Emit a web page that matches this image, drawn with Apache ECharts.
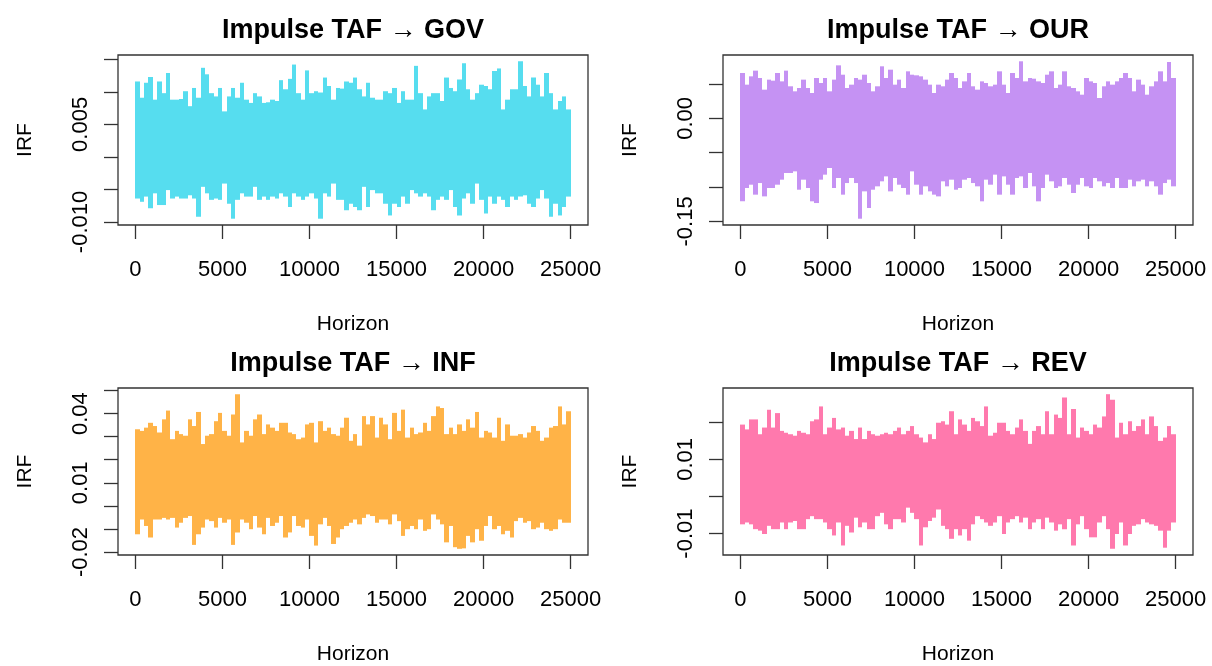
<!DOCTYPE html>
<html>
<head>
<meta charset="utf-8">
<script src="https://cdn.jsdelivr.net/npm/echarts@6/dist/echarts.min.js"></script>
<style>
  html, body { margin: 0; padding: 0; background: #fff; }
  #irf { width: 1212px; height: 666px; }
</style>
</head>
<body>
<div id="irf"></div>
<script>
// each entry = max / min of the IRF inside one 250-period bin of the horizon
const binWidth = 250
const xTicks = [0, 5000, 10000, 15000, 20000, 25000]

const govHi = [0.0116, 0.0091, 0.0114, 0.0123, 0.0088, 0.0116, 0.0098, 0.0129, 0.0088, 0.0088,
  0.0089, 0.0101, 0.0078, 0.0106, 0.0091, 0.0137, 0.0127, 0.0098, 0.0093, 0.0106,
  0.0070, 0.0093, 0.0106, 0.0091, 0.0114, 0.0088, 0.0083, 0.0098, 0.0093, 0.0083,
  0.0084, 0.0088, 0.0086, 0.0118, 0.0104, 0.0120, 0.0142, 0.0098, 0.0088, 0.0133,
  0.0098, 0.0101, 0.0099, 0.0122, 0.0109, 0.0088, 0.0106, 0.0105, 0.0116, 0.0114,
  0.0122, 0.0104, 0.0093, 0.0114, 0.0091, 0.0088, 0.0088, 0.0101, 0.0098, 0.0106,
  0.0083, 0.0101, 0.0088, 0.0088, 0.0140, 0.0098, 0.0073, 0.0093, 0.0098, 0.0098,
  0.0086, 0.0122, 0.0106, 0.0101, 0.0119, 0.0144, 0.0104, 0.0088, 0.0098, 0.0111,
  0.0109, 0.0104, 0.0132, 0.0136, 0.0073, 0.0088, 0.0104, 0.0104, 0.0147, 0.0109,
  0.0093, 0.0122, 0.0111, 0.0093, 0.0129, 0.0098, 0.0073, 0.0086, 0.0093, 0.0073]
const govLo = [-0.0064, -0.0069, -0.0061, -0.0079, -0.0056, -0.0074, -0.0074, -0.0051, -0.0064, -0.0061,
  -0.0064, -0.0064, -0.0059, -0.0064, -0.0092, -0.0046, -0.0056, -0.0066, -0.0064, -0.0066,
  -0.0041, -0.0072, -0.0095, -0.0066, -0.0056, -0.0061, -0.0061, -0.0046, -0.0066, -0.0061,
  -0.0066, -0.0061, -0.0064, -0.0056, -0.0061, -0.0077, -0.0056, -0.0061, -0.0066, -0.0061,
  -0.0056, -0.0064, -0.0095, -0.0056, -0.0061, -0.0041, -0.0066, -0.0066, -0.0082, -0.0072,
  -0.0077, -0.0082, -0.0046, -0.0077, -0.0051, -0.0056, -0.0056, -0.0072, -0.0090, -0.0072,
  -0.0077, -0.0061, -0.0072, -0.0051, -0.0056, -0.0061, -0.0056, -0.0061, -0.0082, -0.0066,
  -0.0061, -0.0066, -0.0051, -0.0077, -0.0090, -0.0064, -0.0056, -0.0072, -0.0041, -0.0066,
  -0.0087, -0.0061, -0.0072, -0.0061, -0.0066, -0.0077, -0.0061, -0.0066, -0.0061, -0.0059,
  -0.0072, -0.0077, -0.0064, -0.0051, -0.0064, -0.0092, -0.0072, -0.0090, -0.0077, -0.0061]
const govTicks = [-0.010, -0.005, 0, 0.005, 0.010, 0.015]
const govLabels = [-0.010, 0.005]

const ourHi = [0.0660, 0.0490, 0.0611, 0.0694, 0.0587, 0.0417, 0.0563, 0.0548, 0.0660, 0.0538,
  0.0694, 0.0466, 0.0393, 0.0441, 0.0563, 0.0441, 0.0369, 0.0587, 0.0514, 0.0587,
  0.0393, 0.0563, 0.0771, 0.0635, 0.0441, 0.0490, 0.0587, 0.0563, 0.0635, 0.0514,
  0.0393, 0.0466, 0.0757, 0.0587, 0.0708, 0.0490, 0.0563, 0.0441, 0.0684, 0.0635,
  0.0626, 0.0611, 0.0563, 0.0490, 0.0369, 0.0490, 0.0466, 0.0563, 0.0660, 0.0587,
  0.0441, 0.0538, 0.0660, 0.0466, 0.0417, 0.0538, 0.0514, 0.0466, 0.0490, 0.0684,
  0.0490, 0.0369, 0.0660, 0.0587, 0.0830, 0.0538, 0.0587, 0.0577, 0.0538, 0.0514,
  0.0635, 0.0684, 0.0441, 0.0490, 0.0684, 0.0466, 0.0441, 0.0393, 0.0344, 0.0587,
  0.0538, 0.0514, 0.0296, 0.0466, 0.0538, 0.0490, 0.0538, 0.0587, 0.0660, 0.0587,
  0.0393, 0.0563, 0.0490, 0.0344, 0.0466, 0.0538, 0.0684, 0.0538, 0.0820, 0.0587]
const ourLo = [-0.1208, -0.1014, -0.0966, -0.1111, -0.0942, -0.1136, -0.1014, -0.1014, -0.0966, -0.0893,
  -0.0796, -0.0796, -0.0772, -0.1039, -0.0893, -0.1014, -0.1208, -0.1233, -0.0893, -0.0820,
  -0.0723, -0.1014, -0.0869, -0.1111, -0.0942, -0.0869, -0.0942, -0.1461, -0.1063, -0.1305,
  -0.1039, -0.0990, -0.0917, -0.0845, -0.1063, -0.0869, -0.0966, -0.1014, -0.1111, -0.0772,
  -0.0966, -0.1111, -0.0990, -0.1063, -0.1111, -0.1136, -0.0917, -0.0990, -0.0893, -0.1039,
  -0.1014, -0.0893, -0.0869, -0.0942, -0.0990, -0.1208, -0.0893, -0.0966, -0.0820, -0.1111,
  -0.0845, -0.0966, -0.1111, -0.0869, -0.0845, -0.1014, -0.0796, -0.0990, -0.1208, -0.1014,
  -0.0820, -0.0917, -0.1014, -0.0990, -0.0869, -0.0966, -0.1087, -0.0966, -0.0869, -0.0990,
  -0.1014, -0.0869, -0.0917, -0.0990, -0.0942, -0.1014, -0.0869, -0.1014, -0.1014, -0.0893,
  -0.0990, -0.0917, -0.0893, -0.0990, -0.0917, -0.0990, -0.1111, -0.0942, -0.0893, -0.0990]
const ourTicks = [-0.15, -0.10, -0.05, 0, 0.05]
const ourLabels = [-0.15, 0]

const infHi = [0.0332, 0.0325, 0.0339, 0.0360, 0.0346, 0.0318, 0.0375, 0.0413, 0.0289, 0.0325,
  0.0311, 0.0304, 0.0375, 0.0346, 0.0407, 0.0268, 0.0304, 0.0311, 0.0367, 0.0403,
  0.0325, 0.0304, 0.0396, 0.0484, 0.0275, 0.0325, 0.0304, 0.0375, 0.0396, 0.0311,
  0.0353, 0.0339, 0.0325, 0.0360, 0.0360, 0.0318, 0.0311, 0.0289, 0.0296, 0.0353,
  0.0360, 0.0275, 0.0367, 0.0325, 0.0339, 0.0311, 0.0304, 0.0339, 0.0382, 0.0282,
  0.0311, 0.0261, 0.0389, 0.0353, 0.0389, 0.0296, 0.0382, 0.0353, 0.0289, 0.0403,
  0.0325, 0.0417, 0.0296, 0.0339, 0.0311, 0.0318, 0.0360, 0.0325, 0.0389, 0.0431,
  0.0424, 0.0311, 0.0339, 0.0311, 0.0353, 0.0325, 0.0375, 0.0339, 0.0407, 0.0296,
  0.0325, 0.0318, 0.0296, 0.0382, 0.0282, 0.0353, 0.0304, 0.0304, 0.0311, 0.0296,
  0.0318, 0.0346, 0.0325, 0.0282, 0.0296, 0.0339, 0.0346, 0.0431, 0.0353, 0.0410]
const infLo = [-0.0123, -0.0059, -0.0087, -0.0137, -0.0059, -0.0059, -0.0052, -0.0059, -0.0052, -0.0094,
  -0.0073, -0.0052, -0.0044, -0.0169, -0.0123, -0.0094, -0.0059, -0.0066, -0.0094, -0.0052,
  -0.0073, -0.0059, -0.0169, -0.0115, -0.0059, -0.0073, -0.0101, -0.0044, -0.0094, -0.0123,
  -0.0052, -0.0087, -0.0073, -0.0044, -0.0137, -0.0115, -0.0044, -0.0087, -0.0094, -0.0059,
  -0.0130, -0.0172, -0.0080, -0.0052, -0.0087, -0.0165, -0.0137, -0.0101, -0.0087, -0.0073,
  -0.0059, -0.0080, -0.0052, -0.0037, -0.0044, -0.0073, -0.0059, -0.0059, -0.0080, -0.0037,
  -0.0066, -0.0130, -0.0101, -0.0087, -0.0101, -0.0059, -0.0108, -0.0101, -0.0037, -0.0059,
  -0.0080, -0.0158, -0.0087, -0.0179, -0.0186, -0.0184, -0.0130, -0.0158, -0.0101, -0.0151,
  -0.0087, -0.0044, -0.0101, -0.0087, -0.0123, -0.0108, -0.0137, -0.0066, -0.0052, -0.0073,
  -0.0066, -0.0101, -0.0094, -0.0073, -0.0101, -0.0108, -0.0101, -0.0059, -0.0073, -0.0073]
const infTicks = [-0.02, -0.01, 0, 0.01, 0.02, 0.03, 0.04, 0.05]
const infLabels = [-0.02, 0.01, 0.04]

const revHi = [0.0194, 0.0181, 0.0208, 0.0208, 0.0168, 0.0186, 0.0234, 0.0186, 0.0225, 0.0177,
  0.0172, 0.0168, 0.0164, 0.0177, 0.0172, 0.0168, 0.0203, 0.0208, 0.0243, 0.0168,
  0.0186, 0.0212, 0.0181, 0.0186, 0.0164, 0.0177, 0.0155, 0.0186, 0.0155, 0.0177,
  0.0168, 0.0164, 0.0168, 0.0172, 0.0168, 0.0177, 0.0186, 0.0168, 0.0177, 0.0190,
  0.0168, 0.0159, 0.0146, 0.0168, 0.0155, 0.0199, 0.0203, 0.0194, 0.0230, 0.0168,
  0.0208, 0.0194, 0.0177, 0.0212, 0.0203, 0.0190, 0.0243, 0.0164, 0.0172, 0.0199,
  0.0199, 0.0177, 0.0168, 0.0186, 0.0208, 0.0177, 0.0142, 0.0177, 0.0190, 0.0168,
  0.0230, 0.0168, 0.0221, 0.0212, 0.0267, 0.0168, 0.0236, 0.0159, 0.0186, 0.0177,
  0.0168, 0.0194, 0.0186, 0.0216, 0.0276, 0.0261, 0.0159, 0.0199, 0.0168, 0.0203,
  0.0177, 0.0190, 0.0208, 0.0168, 0.0216, 0.0190, 0.0150, 0.0159, 0.0190, 0.0168]
const revLo = [-0.0075, -0.0070, -0.0075, -0.0088, -0.0092, -0.0101, -0.0079, -0.0088, -0.0088, -0.0070,
  -0.0088, -0.0070, -0.0066, -0.0088, -0.0088, -0.0061, -0.0053, -0.0061, -0.0061, -0.0070,
  -0.0088, -0.0105, -0.0070, -0.0132, -0.0079, -0.0097, -0.0057, -0.0083, -0.0070, -0.0088,
  -0.0088, -0.0053, -0.0044, -0.0075, -0.0088, -0.0061, -0.0061, -0.0070, -0.0030, -0.0044,
  -0.0061, -0.0132, -0.0083, -0.0066, -0.0057, -0.0035, -0.0079, -0.0088, -0.0114, -0.0088,
  -0.0105, -0.0088, -0.0119, -0.0075, -0.0053, -0.0061, -0.0070, -0.0079, -0.0070, -0.0053,
  -0.0101, -0.0070, -0.0061, -0.0053, -0.0070, -0.0057, -0.0088, -0.0070, -0.0061, -0.0088,
  -0.0057, -0.0070, -0.0092, -0.0075, -0.0088, -0.0061, -0.0132, -0.0075, -0.0053, -0.0088,
  -0.0110, -0.0110, -0.0070, -0.0053, -0.0088, -0.0141, -0.0101, -0.0070, -0.0132, -0.0101,
  -0.0079, -0.0075, -0.0061, -0.0070, -0.0075, -0.0079, -0.0092, -0.0138, -0.0092, -0.0070]
const revTicks = [-0.01, 0, 0.01, 0.02]
const revLabels = [-0.01, 0.01]

const panels = [
  {name: 'GOV', hi: govHi, lo: govLo, color: '#56DDEF', ticks: govTicks, labels: govLabels, digits: 3},
  {name: 'OUR', hi: ourHi, lo: ourLo, color: '#C592F3', ticks: ourTicks, labels: ourLabels, digits: 2},
  {name: 'INF', hi: infHi, lo: infLo, color: '#FFB347', ticks: infTicks, labels: infLabels, digits: 2},
  {name: 'REV', hi: revHi, lo: revLo, color: '#FF79AD', ticks: revTicks, labels: revLabels, digits: 2}
]

const boxes = [
  {left: 118, top: 55, width: 470, height: 170},
  {left: 723, top: 55, width: 470, height: 170},
  {left: 118, top: 388, width: 470, height: 171},
  {left: 723, top: 388, width: 470, height: 171}
]

const font = 'Liberation Sans, Arial, sans-serif'
const chart = echarts.init(document.getElementById('irf'), null, {renderer: 'canvas'})

let grid = [], xAxis = [], yAxis = [], series = [], graphic = []

panels.forEach((p, k) => {
  const b = boxes[k]
  grid.push({left: b.left, top: b.top, width: b.width, height: b.height,
    show: true, borderColor: '#333', borderWidth: 1.3, backgroundColor: 'transparent'})

  xAxis.push({
    type: 'value', gridIndex: k, min: -1000, max: 26000,
    name: 'Horizon', nameLocation: 'middle', nameGap: 89,
    nameTextStyle: {fontFamily: font, fontSize: 21, color: '#000'},
    axisLine: {show: false, onZero: false},
    axisTick: {show: true, inside: false, length: 14, customValues: xTicks, lineStyle: {color: '#333', width: 1.3}},
    axisLabel: {customValues: xTicks, margin: 34, fontFamily: font, fontSize: 22, color: '#000',
      formatter: v => String(v)},
    splitLine: {show: false}
  })

  yAxis.push({
    type: 'value', gridIndex: k,
    // R pads the data range by 4% on each side
    min: v => v.min - 0.04 * (v.max - v.min),
    max: v => v.max + 0.04 * (v.max - v.min),
    name: 'IRF', nameLocation: 'middle', nameGap: 82, nameRotate: 90,
    nameTextStyle: {fontFamily: font, fontSize: 21, color: '#000'},
    axisLine: {show: false, onZero: false},
    axisTick: {show: true, inside: false, length: 14, customValues: p.ticks, lineStyle: {color: '#333', width: 1.3}},
    axisLabel: {customValues: p.labels, rotate: 90, margin: 26, fontFamily: font, fontSize: 22, color: '#000',
      formatter: v => v.toFixed(p.digits)},
    splitLine: {show: false}
  })

  const data = p.hi.map((h, i) => [i * binWidth, (i + 1) * binWidth, h, p.lo[i]])
  series.push({
    type: 'custom', xAxisIndex: k, yAxisIndex: k,
    encode: {x: [0, 1], y: [2, 3]},
    data: data,
    renderItem: function (params, api) {
      const a = api.coord([api.value(0), api.value(2)])
      const c = api.coord([api.value(1), api.value(3)])
      const x0 = Math.round(a[0]), x1 = Math.round(c[0])
      return {
        type: 'rect',
        shape: {x: x0, y: a[1], width: x1 - x0, height: c[1] - a[1]},
        style: {fill: p.color}
      }
    }
  })

  graphic.push({
    type: 'text', x: b.left + b.width / 2, y: b.top - 24,
    style: {text: 'Impulse TAF \u2192 ' + p.name, fontFamily: font, fontSize: 27, fontWeight: 'bold',
      fill: '#000', align: 'center', verticalAlign: 'middle'}
  })
})

const option = {
  animation: false,
  backgroundColor: '#fff',
  grid: grid,
  xAxis: xAxis,
  yAxis: yAxis,
  series: series,
  graphic: graphic
}
option && chart.setOption(option)
</script>
</body>
</html>
